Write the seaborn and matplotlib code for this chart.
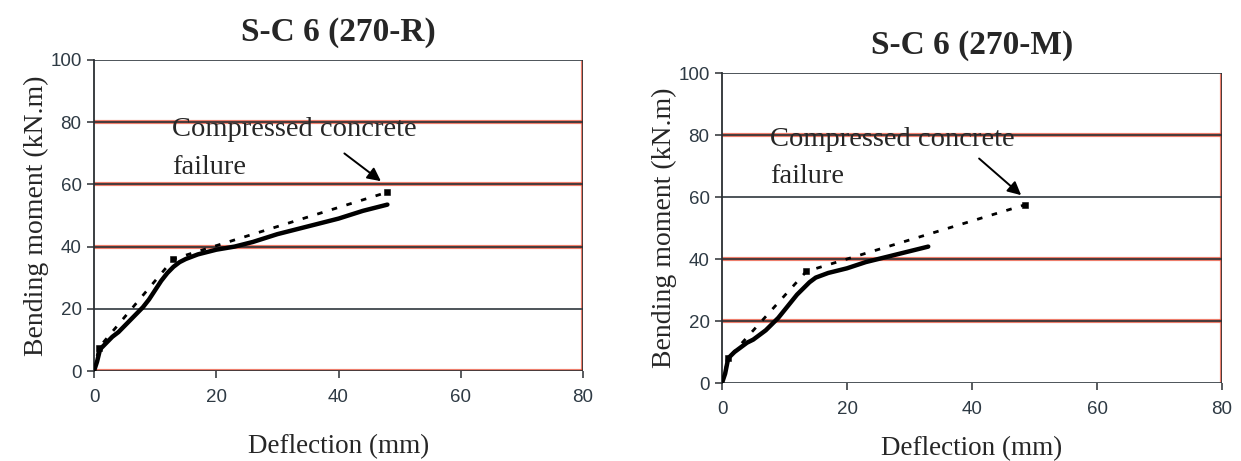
import matplotlib
matplotlib.use("Agg")
import matplotlib.pyplot as plt
import seaborn as sns
import pandas as pd

# ---- data ----
r_exp_x = [0, 0.5, 1, 2, 3, 4, 5, 6, 7, 8, 9, 10, 11, 12, 13, 14, 15, 17, 20, 23, 26, 30, 35, 40, 44, 48]
r_exp_y = [0, 3, 7, 9, 11, 12.5, 14.5, 16.5, 18.5, 20.5, 23, 26, 29, 31.5, 33.5, 35, 36, 37.5, 39, 40, 41.5, 44, 46.5, 49, 51.5, 53.5]
r_mod_x = [0, 0.8, 13, 48]
r_mod_y = [0, 7.5, 36, 57.5]

m_exp_x = [0, 0.5, 1, 2, 3, 4, 5, 6, 7, 8, 9, 10, 11, 12, 13, 14, 15, 17, 20, 23, 26, 29, 33]
m_exp_y = [0, 3, 8, 10, 11.5, 13, 14, 15.5, 17, 19, 21, 23.5, 26, 28.5, 30.5, 32.5, 34, 35.5, 37, 39, 40.5, 42, 44]
m_mod_x = [0, 1, 13.5, 48.5]
m_mod_y = [0, 8, 36, 57.5]

titles = ["S-C 6 (270-R)", "S-C 6 (270-M)"]
x_ticks = [0, 20, 40, 60, 80]
y_ticks = [0, 20, 40, 60, 80, 100]

sns.set_theme(style="white")
plt.rcParams['font.family'] = ['Liberation Serif', 'DejaVu Serif']

fig = plt.figure(figsize=(12.41, 4.61), dpi=100)
ax1 = fig.add_axes([94/1241, (461-371)/461, 489/1241, 311/461])
ax2 = fig.add_axes([722/1241, (461-383)/461, 500/1241, 310/461])

RED = "#e8472e"
DARK = "#2b2f33"
GRAY = "#3f464c"

def grid(ax, red_levels, dark_levels):
    for y in red_levels:
        ax.axhline(y, color=RED, lw=3.0, alpha=0.7, zorder=1)
        ax.axhline(y, color=DARK, lw=1.2, zorder=1.1)
    for y in dark_levels:
        ax.axhline(y, color=GRAY, lw=1.3, zorder=1.1)
    ax.axvline(80, color=RED, lw=3.0, alpha=0.7, zorder=1)
    ax.axvline(80, color=DARK, lw=1.2, zorder=1.1)

def style(ax, title, title_y, xpad):
    ax.set_xlim(0, 80)
    ax.set_ylim(0, 100)
    ax.set_xticks(x_ticks)
    ax.set_yticks(y_ticks)
    for s in ["top", "right", "bottom"]:
        ax.spines[s].set_visible(False)
    ax.spines["left"].set_color(DARK)
    ax.spines["left"].set_linewidth(1.3)
    ax.tick_params(axis="both", direction="out", length=5, width=1.1, color=DARK,
                   labelsize=13.5, labelcolor="#2e3a44", pad=4)
    for lab in ax.get_xticklabels() + ax.get_yticklabels():
        lab.set_fontfamily(['Liberation Sans', 'DejaVu Sans'])
    ax.tick_params(axis="x", bottom=True, pad=8)
    ax.tick_params(axis="y", left=True)
    ax.set_xlabel("Deflection (mm)", fontsize=19.5, labelpad=xpad)
    ax.set_ylabel("Bending moment (kN.m)", fontsize=20, labelpad=1)
    ax.set_title(title, fontsize=24, fontweight="bold", y=title_y)

def draw(ax, ex, ey, mx, my):
    sns.lineplot(x=ex, y=ey, ax=ax, color="black", lw=3.2, sort=False, estimator=None, zorder=3)
    sns.lineplot(x=mx, y=my, ax=ax, color="black", lw=2.0, sort=False, estimator=None,
                 dashes=False, linestyle=(0, (2, 3.5)), zorder=3)
    sns.scatterplot(x=mx[1:], y=my[1:], ax=ax, color="black", marker="s", s=22,
                    edgecolor="black", zorder=4)

grid(ax1, [0, 40, 60, 80], [20, 100])
draw(ax1, r_exp_x, r_exp_y, r_mod_x, r_mod_y)
style(ax1, titles[0], 1.035, 20)
ax1.text(12.8, 77.5, "Compressed concrete", fontsize=20.5, va="center", ha="left")
ax1.text(12.8, 65.5, "failure", fontsize=20.5, va="center", ha="left")
ax1.annotate("", xy=(47.3, 60.5), xytext=(40.6, 70.5),
             arrowprops=dict(arrowstyle="-|>", color="black", lw=1.4, mutation_scale=20))

grid(ax2, [20, 40, 80], [0, 60, 100])
draw(ax2, m_exp_x, m_exp_y, m_mod_x, m_mod_y)
style(ax2, titles[1], 1.035, 13)
ax2.text(7.7, 78.5, "Compressed concrete", fontsize=20.5, va="center", ha="left")
ax2.text(7.7, 66.5, "failure", fontsize=20.5, va="center", ha="left")
ax2.annotate("", xy=(48.2, 60), xytext=(40.8, 73),
             arrowprops=dict(arrowstyle="-|>", color="black", lw=1.4, mutation_scale=20))

fig.savefig("out.png", dpi=100)
